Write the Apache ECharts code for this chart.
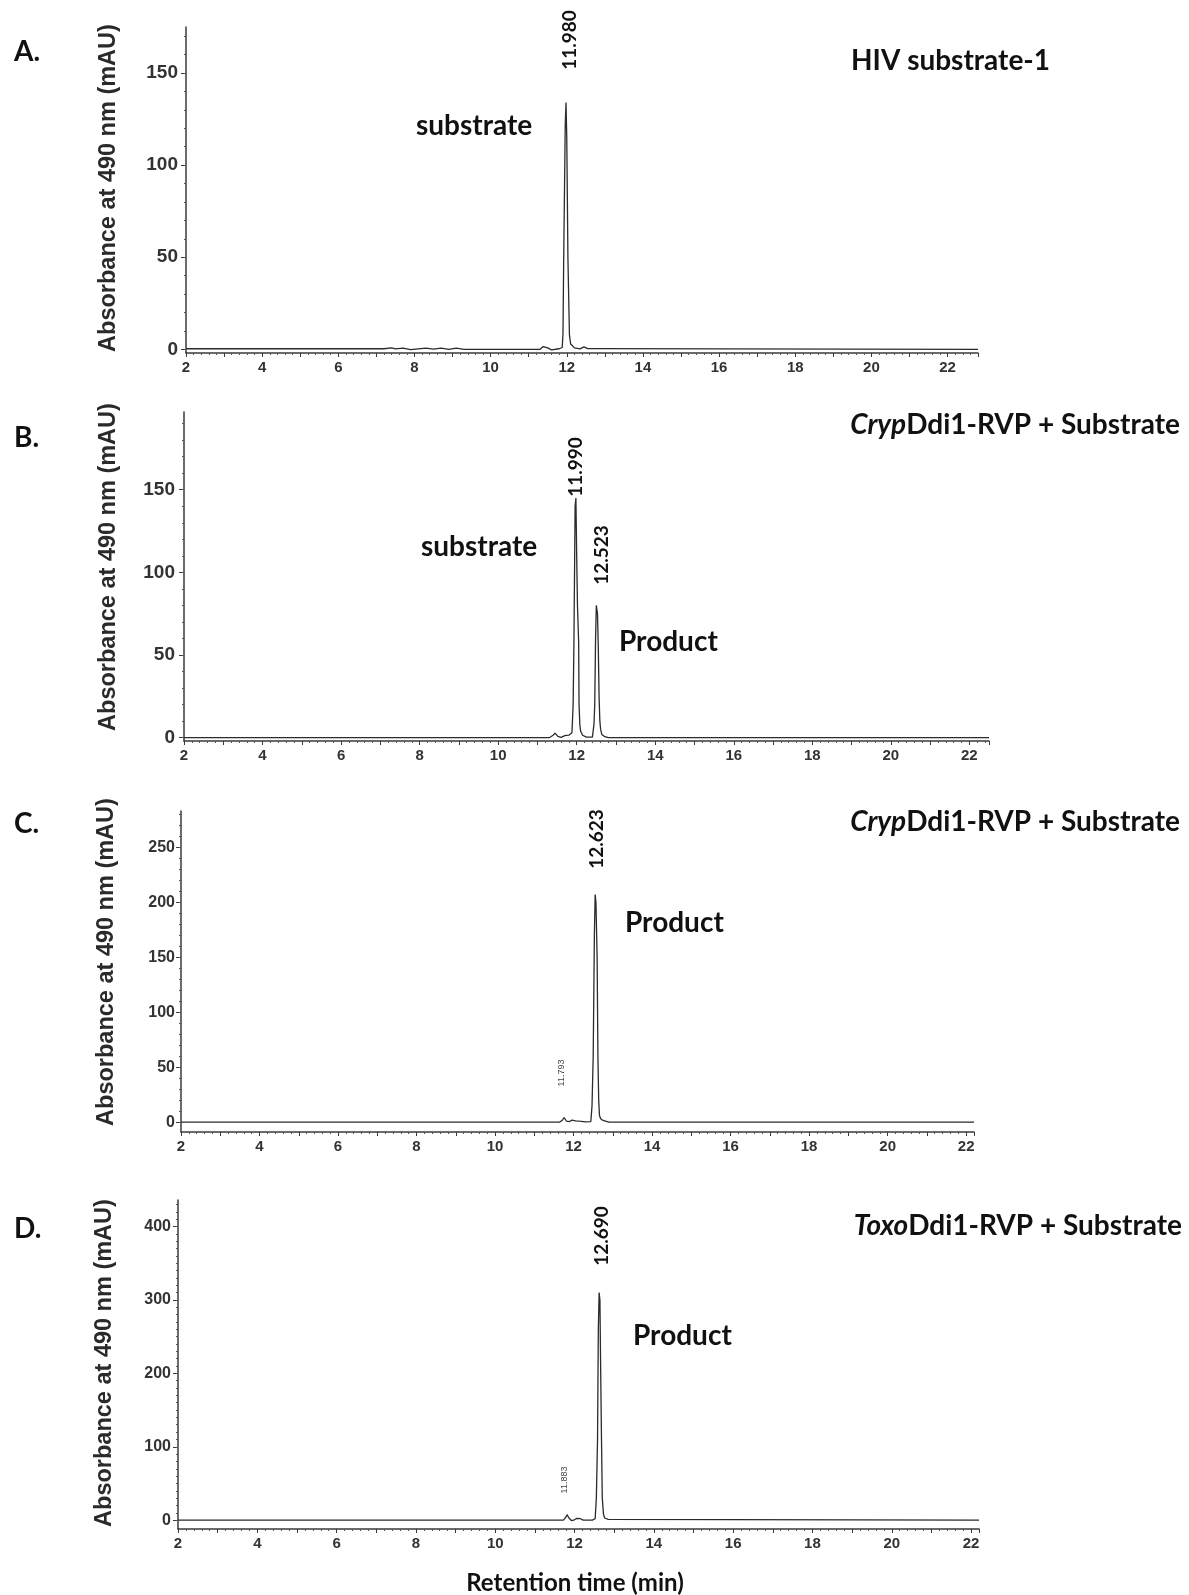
<!DOCTYPE html>
<html>
<head>
<meta charset="utf-8">
<script src="https://cdn.jsdelivr.net/npm/echarts@6/dist/echarts.min.js"></script>
<style>
  html, body { margin: 0; padding: 0; background: #fff; }
  #chart { width: 1189px; height: 1595px; }
</style>
</head>
<body>
<div id="chart"></div>
<script>
// retention time (min) and absorbance (mAU)
const timeA = [2, 7.2, 7.4, 7.5, 7.7, 7.9, 8.3, 8.5, 8.7, 8.9, 9.1, 9.3, 11.3, 11.38, 11.43, 11.5, 11.6, 11.8, 11.88, 11.9, 11.92, 11.94, 11.96, 11.98, 12.0, 12.02, 12.03, 12.05, 12.07, 12.1, 12.2, 12.35, 12.45, 12.55, 12.8, 12.85, 22.8];
const absA  = [0.3, 0.3, 0.8, 0.2, 0.7, -0.2, 0.6, 0.1, 0.7, 0, 0.6, 0, 0, 1.5, 2.4, 0.8, -0.3, 0.3, 1, 8, 50, 50, 122, 134, 115, 115, 50, 50, 8, 3, 0.8, 0.2, 1.3, 0.4, 0.4, 0, 0];

const timeB = [2, 11.3, 11.4, 11.45, 11.52, 11.6, 11.7, 11.75, 11.8, 11.85, 11.88, 11.91, 11.93, 11.95, 11.96, 11.98, 12.0, 12.02, 12.03, 12.05, 12.06, 12.08, 12.1, 12.15, 12.25, 12.4, 12.44, 12.46, 12.48, 12.5, 12.53, 12.55, 12.57, 12.59, 12.61, 12.64, 12.7, 12.8, 22.5];
const absB  = [0, 0, 1.5, 2.8, 0.8, 0.2, 1.2, 0.8, 1.5, 1.5, 3, 20, 58, 58, 140, 145, 110, 80, 80, 58, 20, 8, 4, 1.5, 0.3, 0.3, 8, 20, 58, 80, 75, 55, 25, 10, 5, 2, 0.8, 0, 0];

const timeC = [2, 11.65, 11.72, 11.76, 11.82, 11.9, 11.96, 12.0, 12.05, 12.1, 12.15, 12.2, 12.3, 12.44, 12.47, 12.5, 12.53, 12.55, 12.57, 12.6, 12.62, 12.64, 12.66, 12.69, 12.72, 12.75, 12.8, 12.9, 22.2];
const absC  = [0, 0, 2, 4.2, 0.8, 0.5, 1.8, 2.2, 1.2, 1.5, 0.8, 1, 0.3, 0.5, 15, 60, 170, 207, 200, 150, 60, 20, 6, 3, 3.5, 1.5, 0.5, 0, 0];

const timeD = [2, 11.72, 11.78, 11.81, 11.86, 11.92, 12.0, 12.06, 12.1, 12.15, 12.22, 12.45, 12.52, 12.55, 12.58, 12.6, 12.62, 12.64, 12.66, 12.68, 12.7, 12.73, 12.76, 12.8, 12.85, 12.9, 22.2];
const absD  = [0, 0, 4, 7.5, 3, -0.5, 0.5, 2.5, 3.5, 2, 0, 0, 2, 30, 110, 260, 310, 300, 200, 110, 30, 8, 3, 4, 1, 0, 0];

const yTicksA = [0, 50, 100, 150];
const yTicksB = [0, 50, 100, 150];
const yTicksC = [0, 50, 100, 150, 200, 250];
const yTicksD = [0, 100, 200, 300, 400];

const panelLetters = ['A.', 'B.', 'C.', 'D.'];
const yTitle = 'Absorbance at 490 nm (mAU)';
const xTitle = 'Retention time (min)';

function zip(t, v) {
  return t.map((x, i) => [x, v[i]]);
}
function minorList(lo, hi, step) {
  const out = [];
  for (let v = lo; v <= hi; v += step) out.push(v);
  return out;
}

const panels = [
  {grid: {left: 186, top: 27, width: 792, height: 326}, xmax: 22.8, ymin: -2, ymax: 175, ticks: yTicksA, minor: minorList(0, 170, 10), data: zip(timeA, absA), yFont: 19, yMargin: 8},
  {grid: {left: 184, top: 412, width: 805, height: 329}, xmax: 22.5, ymin: -2, ymax: 197, ticks: yTicksB, minor: minorList(0, 190, 10), data: zip(timeB, absB), yFont: 19, yMargin: 9},
  {grid: {left: 181, top: 811, width: 793, height: 321}, xmax: 22.2, ymin: -9, ymax: 283, ticks: yTicksC, minor: minorList(0, 280, 10), data: zip(timeC, absC), yFont: 16, yMargin: 6},
  {grid: {left: 178, top: 1200, width: 801, height: 329}, xmax: 22.2, ymin: -12, ymax: 436, ticks: yTicksD, minor: minorList(0, 430, 10), data: zip(timeD, absD), yFont: 16, yMargin: 7}
];

const axisColor = '#3a3a3a';
const tickFont = {fontFamily: 'Liberation Sans', fontWeight: 'bold', color: '#333'};

const grids = [], xAxes = [], yAxes = [], series = [];
panels.forEach((p, i) => {
  grids.push(p.grid);
  xAxes.push({
    type: 'value', gridIndex: i, min: 2, max: p.xmax, interval: 1,
    axisLine: {onZero: false, lineStyle: {color: axisColor, width: 1.5}},
    axisTick: {length: 4, lineStyle: {color: axisColor}},
    minorTick: {show: true, splitNumber: 5, length: 2, lineStyle: {color: '#555'}},
    splitLine: {show: false},
    axisLabel: Object.assign({margin: 7, fontSize: 15, formatter: v => (v % 2 === 0 ? String(v) : '')}, tickFont)
  });
  yAxes.push({
    type: 'value', gridIndex: i, min: p.ymin, max: p.ymax,
    axisLine: {show: true, onZero: false, lineStyle: {color: axisColor, width: 1.5}},
    axisTick: {show: true, length: 5, customValues: p.ticks, lineStyle: {color: axisColor}},
    axisLabel: Object.assign({margin: p.yMargin, fontSize: p.yFont, customValues: p.ticks}, tickFont),
    splitLine: {show: false}
  });
  yAxes.push({
    type: 'value', gridIndex: i, min: p.ymin, max: p.ymax, position: 'left',
    axisLine: {show: false},
    axisTick: {show: true, length: 2, customValues: p.minor, lineStyle: {color: '#555'}},
    axisLabel: {show: false},
    splitLine: {show: false}
  });
  series.push({
    type: 'line', xAxisIndex: i, yAxisIndex: i * 2, data: p.data,
    showSymbol: false, symbol: 'none', smooth: false,
    lineStyle: {color: '#2b2b2b', width: 1.3}
  });
});

const big = {fontFamily: 'Lato', fontWeight: 'bold', fontSize: 28, fill: '#111'};
function txt(text, x, y, extra) {
  return {type: 'text', x: x, y: y, style: Object.assign({text: text, textVerticalAlign: 'middle'}, big, extra || {})};
}
function vert(text, x, y, extra) {
  return {type: 'text', x: x, y: y, rotation: Math.PI / 2,
    style: Object.assign({text: text, textAlign: 'center', textVerticalAlign: 'middle',
      fontFamily: 'Lato', fontWeight: 'bold', fontSize: 19, fill: '#111'}, extra || {})};
}
const italicRich = {i: {fontFamily: 'Lato', fontWeight: 'bold', fontStyle: 'italic', fontSize: 28, fill: '#111'}};
const yTitleStyle = {fontFamily: 'Liberation Sans', fontSize: 23.5, fill: '#2a2a2a'};
const smallPeak = {fontFamily: 'Liberation Sans', fontWeight: 'normal', fontSize: 9, fill: '#444'};

const graphics = [
  txt(panelLetters[0], 14, 52), txt(panelLetters[1], 14, 438), txt(panelLetters[2], 14, 824), txt(panelLetters[3], 14, 1229),
  vert(yTitle, 109, 188, yTitleStyle),
  vert(yTitle, 109, 567, yTitleStyle),
  vert(yTitle, 107, 962, yTitleStyle),
  vert(yTitle, 105, 1363, yTitleStyle),
  txt('HIV substrate-1', 851, 61),
  txt('{i|Cryp}Ddi1-RVP + Substrate', 1180, 425, {textAlign: 'right', rich: italicRich}),
  txt('{i|Cryp}Ddi1-RVP + Substrate', 1180, 822, {textAlign: 'right', rich: italicRich}),
  txt('{i|Toxo}Ddi1-RVP + Substrate', 1182, 1226, {textAlign: 'right', rich: italicRich}),
  txt('substrate', 416, 126), txt('substrate', 421, 547),
  txt('Product', 619, 642), txt('Product', 625, 923), txt('Product', 633, 1336),
  vert('11.980', 570, 40), vert('11.990', 576, 467), vert('12.523', 602, 555),
  vert('12.623', 597, 839), vert('12.690', 602, 1236),
  vert('11.793', 562, 1073, smallPeak),
  vert('11.883', 565, 1480, smallPeak),
  txt(xTitle, 575, 1583, {textAlign: 'center', fontSize: 24})
];

const chart = echarts.init(document.getElementById('chart'));
chart.setOption({
  animation: false,
  backgroundColor: '#fff',
  grid: grids,
  xAxis: xAxes,
  yAxis: yAxes,
  series: series,
  graphic: graphics
});
</script>
</body>
</html>
